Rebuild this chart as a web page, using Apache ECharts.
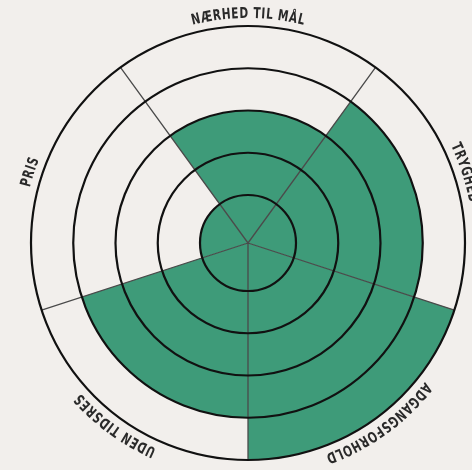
<!DOCTYPE html>
<html>
<head>
<meta charset="utf-8">
<script src="https://cdn.jsdelivr.net/npm/echarts@6/dist/echarts.min.js"></script>
<style>
html,body{margin:0;padding:0;background:#f2efec;}
#chart{width:472px;height:470px;}
</style>
</head>
<body>
<div id="chart"></div>
<script>
// Categories clockwise from the top
var categories = ['NÆRHED TIL MÅL', 'TRYGHED', 'ADGANGSFORHOLD', 'UDEN TIDSRES', 'PRIS'];
// Filled rings per category (out of 5)
var scores = [3, 4, 5, 4, 1];
var ringTicks = [1, 2, 3, 4, 5];

var GREEN = '#3e9b79';
var FONT_SIZE = 15;
var FONT_WEIGHT = 'bold';
var FONT_FAMILY = '"DejaVu Sans Condensed", "DejaVu Sans", sans-serif';
var SCALE_X = 0.78;
var LETTER_SPACING = 0.8;
var LABEL_GAP = 12;
var FONT = FONT_WEIGHT + ' ' + FONT_SIZE + 'px ' + FONT_FAMILY;

var measureCtx = document.createElement('canvas').getContext('2d');
measureCtx.font = FONT;

var chart = echarts.init(document.getElementById('chart'), null, {renderer: 'canvas'});

var option = {
  backgroundColor: '#f2efec',
  animation: false,
  polar: [
    {center: [248, 243], radius: [0, 217]},
    {center: [248, 243], radius: [48, 217]}
  ],
  angleAxis: [
    {
      polarIndex: 0, type: 'category', data: categories,
      startAngle: 126, clockwise: true, boundaryGap: true, z: 5,
      axisLine: {show: false}, axisTick: {show: false}, axisLabel: {show: false},
      splitLine: {show: true, lineStyle: {color: '#4a4a4a', width: 1.3}}
    },
    {
      polarIndex: 1, type: 'value', min: 0, max: 360, show: false,
      axisLine: {show: false}, axisTick: {show: false}, axisLabel: {show: false},
      splitLine: {show: false}
    }
  ],
  radiusAxis: [
    {
      polarIndex: 0, type: 'value', min: -0.1361, max: 5,
      axisLine: {show: false}, axisTick: {show: false}, axisLabel: {show: false},
      splitLine: {show: false}
    },
    {
      polarIndex: 1, type: 'value', min: ringTicks[0], max: ringTicks[ringTicks.length - 1], interval: 1, z: 6,
      axisLine: {show: false}, axisTick: {show: false}, axisLabel: {show: false},
      splitLine: {show: true, lineStyle: {color: '#111', width: 2.2}}
    }
  ],
  series: [
    {
      type: 'custom',
      coordinateSystem: 'polar',
      polarIndex: 0,
      z: 1,
      silent: true,
      encode: {radius: 1, angle: 0},
      data: scores.map(function (v, i) { return [i, v]; }),
      renderItem: function (params, api) {
        var cs = params.coordSys;
        var idx = api.value(0);
        var v = api.value(1);
        var p = api.coord([v, idx]);
        var r = Math.sqrt(Math.pow(p[0] - cs.cx, 2) + Math.pow(p[1] - cs.cy, 2));
        var a = Math.atan2(p[1] - cs.cy, p[0] - cs.cx);
        var half = api.size([0, 1], [v, idx])[1] / 2;
        return {
          type: 'sector',
          shape: {cx: cs.cx, cy: cs.cy, r0: 0, r: r, startAngle: a - half, endAngle: a + half, clockwise: true},
          style: {fill: GREEN, stroke: null}
        };
      }
    },
    {
      type: 'custom',
      coordinateSystem: 'polar',
      polarIndex: 0,
      z: 10,
      silent: true,
      encode: {radius: 1, angle: 0},
      data: categories.map(function (c, i) { return [i, 5]; }),
      renderItem: function (params, api) {
        var cs = params.coordSys;
        var idx = api.value(0);
        var p = api.coord([api.value(1), idx]);
        var a = Math.atan2(p[1] - cs.cy, p[0] - cs.cx);
        var theta = a + Math.PI / 2; // clockwise from top
        var R = cs.r + LABEL_GAP;
        var text = categories[params.dataIndex];
        var chars = Array.from(text);
        var widths = chars.map(function (ch) { return measureCtx.measureText(ch).width * SCALE_X; });
        var total = widths.reduce(function (s, w) { return s + w; }, 0) + LETTER_SPACING * (chars.length - 1);
        var start = theta - total / R / 2;
        var cum = 0;
        var children = [];
        chars.forEach(function (ch, k) {
          var phi = start + (cum + widths[k] / 2) / R;
          cum += widths[k] + LETTER_SPACING;
          if (ch === ' ') return;
          children.push({
            type: 'text',
            x: cs.cx + R * Math.sin(phi),
            y: cs.cy - R * Math.cos(phi),
            rotation: -phi,
            scaleX: SCALE_X,
            style: {
              text: ch, fill: '#2a2a2a',
              font: FONT,
              align: 'center', verticalAlign: 'middle'
            }
          });
        });
        return {type: 'group', children: children};
      }
    }
  ]
};
chart.setOption(option);
</script>
</body>
</html>
